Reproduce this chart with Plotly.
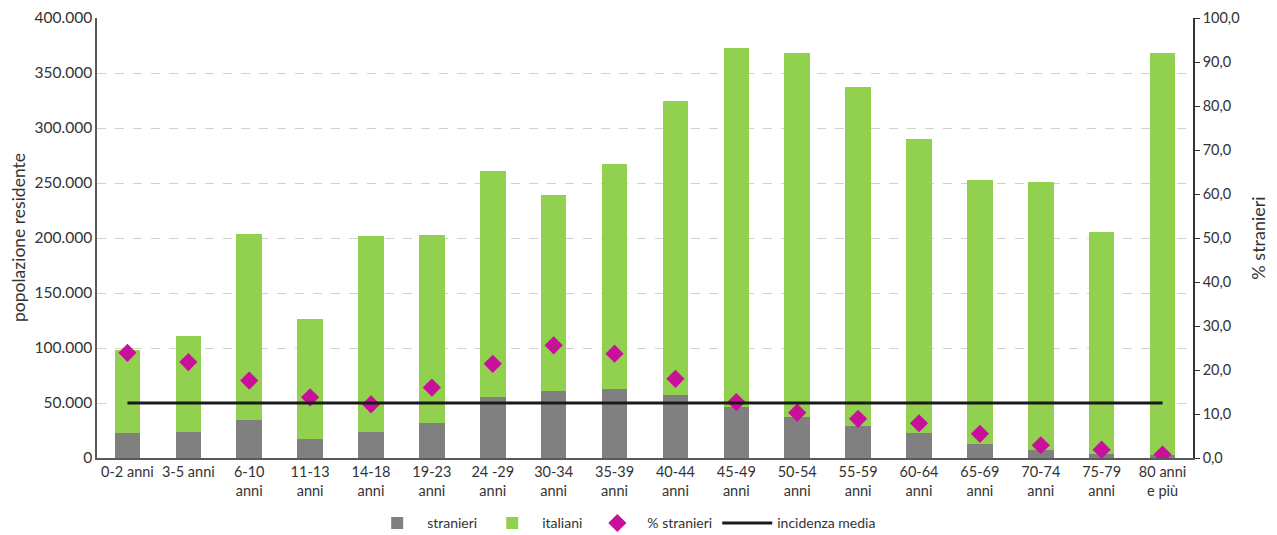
import plotly.graph_objects as go

categorie = ["0-2 anni", "3-5 anni", "6-10<br>anni", "11-13<br>anni", "14-18<br>anni",
             "19-23<br>anni", "24 -29<br>anni", "30-34<br>anni", "35-39<br>anni", "40-44<br>anni",
             "45-49<br>anni", "50-54<br>anni", "55-59<br>anni", "60-64<br>anni", "65-69<br>anni",
             "70-74<br>anni", "75-79<br>anni", "80 anni<br>e più"]
stranieri = [23000, 23500, 35000, 17000, 24000, 32000, 55500, 60500, 62500, 57500,
             46500, 37500, 29000, 22500, 13000, 7000, 3800, 2800]
totale = [98000, 110500, 204000, 126500, 202000, 203000, 261000, 239500, 267000, 325000,
          372500, 368500, 337500, 290000, 253000, 251000, 205500, 368500]
italiani = [t - s for t, s in zip(totale, stranieri)]
perc_stranieri = [23.9, 21.8, 17.6, 13.8, 12.2, 16.0, 21.4, 25.6, 23.7, 18.0,
                  12.7, 10.3, 8.9, 7.9, 5.5, 2.9, 1.9, 0.8]
incidenza_media = [12.5] * len(categorie)

font_fam = "Lato, 'Open Sans', sans-serif"
fig = go.Figure()
fig.add_trace(go.Bar(x=categorie, y=stranieri, name="stranieri", marker_color="#808080",
                     marker_line_width=0))
fig.add_trace(go.Bar(x=categorie, y=italiani, name="italiani", marker_color="#92D050",
                     marker_line_width=0))
fig.add_trace(go.Scatter(x=categorie, y=perc_stranieri, name="% stranieri", mode="markers",
                         marker=dict(symbol="diamond", size=14, color="#C8109B"), yaxis="y2"))
fig.add_trace(go.Scatter(x=categorie, y=incidenza_media, name="incidenza media", mode="lines",
                         line=dict(color="#1a1a1a", width=2.8), yaxis="y2"))

fig.update_layout(
    width=1269, height=527,
    margin=dict(l=89, r=84, t=10, b=77, autoexpand=False),
    paper_bgcolor="white", plot_bgcolor="white",
    barmode="stack", bargap=0.58,
    separators=",.",
    font=dict(family=font_fam, size=14, color="#333333"),
    showlegend=True,
    legend=dict(orientation="h", x=0.481, xanchor="center", itemwidth=50,
                yref="container", y=0.022, yanchor="middle",
                font=dict(size=14), traceorder="normal"),
    xaxis=dict(range=[-0.5, 17.5], showline=True, linecolor="#595959", linewidth=1.5, ticks="",
               tickfont=dict(size=14.5), tickangle=0, automargin=False),
    yaxis=dict(range=[0, 400000], dtick=50000, tickformat=",d",
               showline=True, linecolor="#595959", linewidth=1.5,
               showgrid=True, gridcolor="#d0d0d0", griddash="dash", gridwidth=1,
               zeroline=False, ticks="", tickfont=dict(size=15.5), automargin=False),
    yaxis2=dict(range=[0, 100], dtick=10, tickformat=".1f", overlaying="y", side="right",
                showline=True, linecolor="#333333", linewidth=1.5, showgrid=False,
                zeroline=False, ticks="outside", ticklen=5, tickcolor="#333333",
                tickfont=dict(size=14.5), automargin=False,
                title=dict(text="% stranieri", font=dict(size=18), standoff=14)),
    annotations=[dict(text="popolazione residente", textangle=-90, showarrow=False,
                      xref="paper", yref="paper", x=0, y=0.5, xshift=-79,
                      xanchor="center", yanchor="middle",
                      font=dict(size=17.5, color="#333333"))],
)

fig.write_html("out.html")
